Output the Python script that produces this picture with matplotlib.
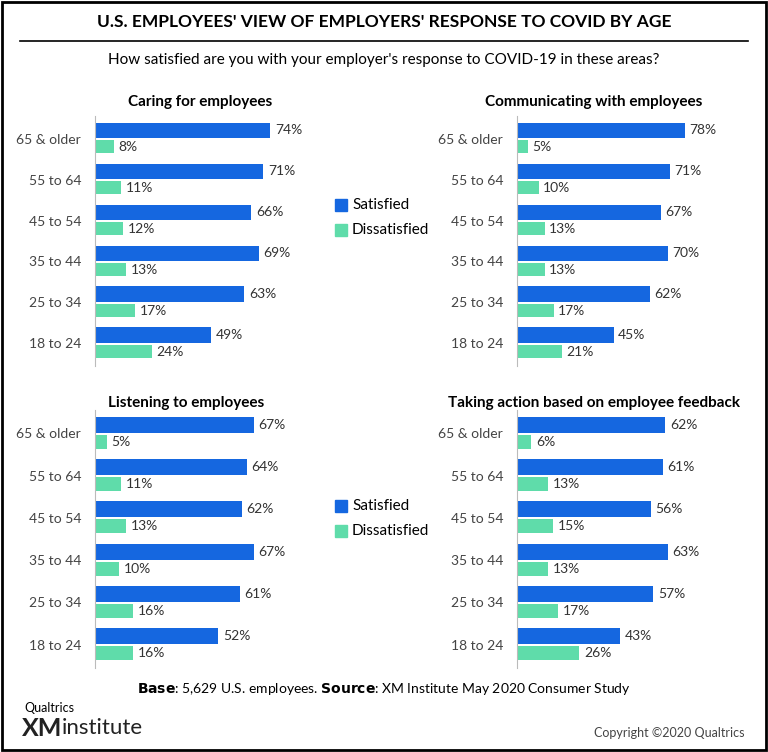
import matplotlib.pyplot as plt
import numpy as np

ages = ["65 & older", "55 to 64", "45 to 54", "35 to 44", "25 to 34", "18 to 24"]
titles = ["Caring for employees", "Communicating with employees",
          "Listening to employees", "Taking action based on employee feedback"]
sat = [[74, 71, 66, 69, 63, 49], [78, 71, 67, 70, 62, 45],
       [67, 64, 62, 67, 61, 52], [62, 61, 56, 63, 57, 43]]
dis = [[8, 11, 12, 13, 17, 24], [5, 10, 13, 13, 17, 21],
       [5, 11, 13, 10, 16, 16], [6, 13, 15, 13, 17, 26]]

W, H = 768, 752
fig = plt.figure(figsize=(W/100, H/100), dpi=100)
plt.rcParams['font.family'] = ['Lato', 'DejaVu Sans']
BLUE, GREEN = "#1567e0", "#5fdcaa"

def ax_px(x0, y0, x1, y1):
    return fig.add_axes([x0/W, 1-y1/H, (x1-x0)/W, (y1-y0)/H])

fig.patches.append(plt.Rectangle((0.003, 0.003), 0.994, 0.994, transform=fig.transFigure,
                                 fill=False, lw=2, ec="black"))
fig.text(0.5, 1-22/H, "U.S. EMPLOYEES' VIEW OF EMPLOYERS' RESPONSE TO COVID BY AGE",
         ha="center", va="center", fontsize=12.5, fontweight="bold")
fig.add_artist(plt.Line2D([20/W, 748/W], [1-41/H, 1-41/H], color="black", lw=1.2))
fig.text(0.5, 1-60/H, "How satisfied are you with your employer's response to COVID-19 in these areas?",
         ha="center", va="center", fontsize=11)

boxes = [(95, 116, 332, 366), (517, 116, 732, 366),
         (95, 410, 332, 668), (517, 410, 756, 668)]
title_x = [(200, 102), (594, 102), (186, 403), (594, 403)]
y = np.arange(len(ages))
for i, (x0, y0, x1, y1) in enumerate(boxes):
    ax = ax_px(x0, y0, x1, y1)
    ax.barh(y - 0.2, sat[i], height=0.38, color=BLUE)
    ax.barh(y + 0.2, dis[i], height=0.33, color=GREEN)
    for yy, v in zip(y, sat[i]):
        ax.text(v + 2, yy - 0.2, f"{v}%", va="center", fontsize=10, color="#333333")
    for yy, v in zip(y, dis[i]):
        ax.text(v + 2, yy + 0.2, f"{v}%", va="center", fontsize=10, color="#333333")
    ax.set_xlim(0, 100)
    ax.set_ylim(5.55, -0.55)
    ax.set_yticks(y)
    ax.set_yticklabels(ages, fontsize=10, color="#444444")
    ax.tick_params(axis="y", length=0, pad=10)
    ax.set_xticks([])
    for s in ["top", "right", "bottom"]:
        ax.spines[s].set_visible(False)
    ax.spines["left"].set_color("#bbbbbb")
    fig.text(title_x[i][0]/W, 1-title_x[i][1]/H, titles[i], ha="center", va="center",
             fontsize=11, fontweight="bold")

for ly in (205, 506):
    for j, (lab, c) in enumerate([("Satisfied", BLUE), ("Dissatisfied", GREEN)]):
        yy = ly + j*25
        fig.patches.append(plt.Rectangle((335/W, 1-(yy+6)/H), 12/W, 12/H,
                                         transform=fig.transFigure, color=c))
        fig.text(352/W, 1-yy/H, lab, va="center", fontsize=11)

fig.text(0.5, 1-689/H, "$\\bf{Base}$: 5,629 U.S. employees. $\\bf{Source}$: XM Institute May 2020 Consumer Study",
         ha="center", va="center", fontsize=10)
fig.text(24/W, 1-708/H, "Qualtrics", fontsize=9, va="center")
fig.text(22/W, 1-728/H, "XM", fontsize=18, fontweight="bold", va="center", color="#222222")
fig.text(62/W, 1-728/H, "institute", fontsize=16, va="center", color="#222222")
fig.text(745/W, 1-733/H, "Copyright ©2020 Qualtrics", ha="right", va="center", fontsize=9, color="#444444")
fig.savefig("out.png", dpi=100)
